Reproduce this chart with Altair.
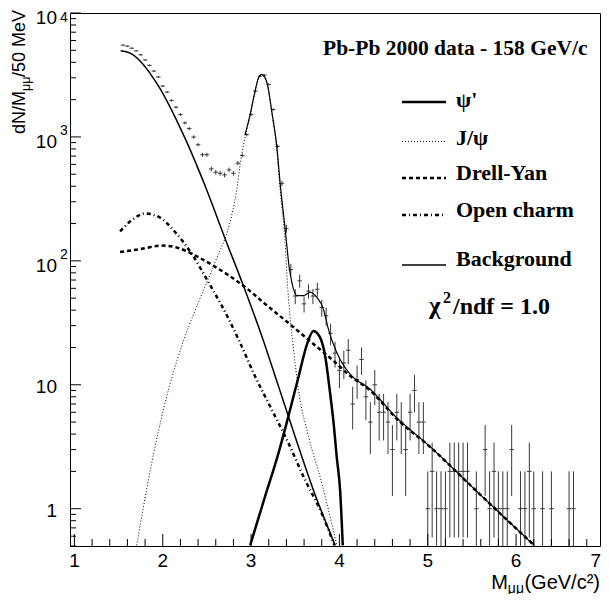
import altair as alt
import pandas as pd
import numpy as np

# ---------------- data ----------------
mass = [1.55, 1.60, 1.65, 1.70, 1.75, 1.80, 1.85, 1.90, 1.95, 2.00,
        2.05, 2.10, 2.15, 2.20, 2.25, 2.30, 2.35, 2.40, 2.45, 2.50,
        2.55, 2.60, 2.65, 2.70, 2.75, 2.80, 2.85, 2.90, 2.95, 3.00,
        3.05, 3.10, 3.15, 3.20, 3.25, 3.30, 3.35, 3.40, 3.45, 3.50,
        3.55, 3.60, 3.65, 3.70, 3.75, 3.80, 3.85, 3.90, 3.95, 4.00,
        4.05, 4.10, 4.15, 4.20, 4.25, 4.30, 4.35, 4.40, 4.45, 4.50,
        4.55, 4.60, 4.65, 4.70, 4.75, 4.80, 4.85, 4.90, 4.95, 5.00,
        5.05, 5.10, 5.15, 5.20, 5.25, 5.30, 5.35, 5.40, 5.45, 5.50,
        5.55, 5.60, 5.65, 5.70, 5.75, 5.80, 5.85, 5.90, 5.95, 6.00,
        6.05, 6.10, 6.15, 6.20, 6.25, 6.30, 6.35, 6.40, 6.45, 6.50,
        6.55, 6.60, 6.65]
counts = [5500, 5400, 5200, 4950, 4600, 4180, 3780, 3400, 3045, 2573,
          2300, 1968, 1738, 1515, 1297, 1167, 998, 865, 718, 718,
          552, 519, 509, 494, 542, 509, 614, 709, 1042, 1515,
          2345, 3090, 3150, 2655, 1664, 839, 422, 182, 85, 52,
          69, 45, 57, 52, 59, 42, 36, 26, 18, 13,
          15, 19, 7, 11, 16, 8, 5, 10, 6, 6,
          5, 3, 6, 5, 3, 6, 9, 5, 5, 1,
          2, 1, 1, 1, 2, 2, 2, 2, 2, 0,
          1, 0, 3, 1, 2, 1, 1, 1, 3, 0,
          1, 1, 2, 1, 0, 1, 0, 1, 0, 0,
          0, 1, 1]

bkg_x = [1.524, 1.630, 1.743, 1.856, 1.970, 2.083, 2.196, 2.290, 2.385, 2.498,
         2.706, 2.913, 3.121, 3.310, 3.498, 3.706, 3.952]
bkg_y = [4950, 4740, 4100, 3260, 2450, 1738, 1189, 851, 589, 373,
         151, 63, 24.8, 9.75, 3.83, 1.41, 0.506]

jpsi_x = [1.705, 1.875, 2.026, 2.215, 2.404, 2.593, 2.781, 2.838, 2.876, 2.932,
          2.989, 3.045, 3.084, 3.121, 3.154, 3.185, 3.234, 3.291, 3.329, 3.385,
          3.415, 3.480, 3.536, 3.650, 3.801, 3.914, 3.970]
jpsi_y = [0.506, 2.33, 7.14, 20.6, 46.3, 97.7, 234, 375, 600, 1000,
          1480, 2300, 2950, 3180, 3000, 2600, 1560, 790, 375, 140,
          60, 19.4, 9.16, 3.83, 1.60, 0.758, 0.506]

psi2_x = [2.989, 3.159, 3.310, 3.423, 3.536, 3.631, 3.706, 3.782, 3.839, 3.895,
          3.933, 3.970, 4.008, 4.038]
psi2_y = [0.506, 1.26, 2.8, 5.6, 11.5, 21.0, 27.2, 24, 17, 8.5,
          5.0, 2.6, 1.4, 0.506]

dy_x = [1.517, 1.762, 1.988, 2.177, 2.404, 2.630, 2.913, 3.159, 3.461, 3.687,
        3.933, 4.121, 4.348, 4.650, 5.027, 5.481, 5.820, 6.205]
dy_y = [118, 125, 133, 127, 107, 86.3, 63, 44.9, 29.9, 21.9,
        15.6, 11.8, 9.0, 5.3, 3.15, 1.55, 0.914, 0.506]

oc_x = [1.517, 1.649, 1.800, 1.951, 2.139, 2.328, 2.517, 2.668, 2.857, 3.045,
        3.234, 3.423, 3.612, 3.801, 3.944]
oc_y = [173, 213, 241, 227, 171, 114, 67.3, 43.5, 23.3, 11.7,
        6.3, 3.38, 1.70, 0.914, 0.506]

tot_x = [2.932, 2.989, 3.045, 3.084, 3.121, 3.154, 3.185, 3.234, 3.291, 3.329,
         3.385, 3.434, 3.461, 3.518, 3.593, 3.668, 3.744, 3.819, 3.876, 3.924,
         4.008, 4.121, 4.348, 4.650, 5.027, 5.481, 5.820, 6.205]
tot_y = [1042, 1514, 2345, 3000, 3200, 3050, 2654, 1614, 838, 422,
         182, 86.3, 67.3, 52.4, 52.4, 55.8, 50.8, 40.8, 28, 22,
         16, 12.2, 9.2, 5.4, 3.17, 1.55, 0.914, 0.506]

x_tick_labels = [1, 2, 3, 4, 5, 6]
x_last_label = 7
y_major = [1, 10, 100, 1000, 10000]
y_exp_vals = [100, 1000]
y_exp_text = ["2", "3"]

# ---------------- layout ----------------
W, H = 530, 533
xs = alt.Scale(domain=[0.95, 6.95], nice=False, zero=False)
ys = alt.Scale(type="log", domain=[0.5, 10000], nice=False)
SANS = "Liberation Sans"
SERIF = "Liberation Serif"

one = pd.DataFrame({"a": [0]})


def X(f):
    return alt.X(f, scale=xs, axis=None)


def Y(f):
    return alt.Y(f, scale=ys, axis=None)


def curve(xv, yv, **style):
    df = pd.DataFrame({"m": xv, "v": yv})
    return alt.Chart(df).mark_line(clip=True, interpolate="monotone", color="black", **style).encode(
        x=X("m:Q"), y=Y("v:Q"))


# data points
pts = pd.DataFrame({"m": mass, "n": counts})
pts = pts[pts["n"] > 0].copy()
err = np.sqrt(pts["n"])
pts["lo"] = np.maximum(pts["n"] - err, 0.3)
pts["hi"] = pts["n"] + err
pts["m1"] = pts["m"] - 0.025
pts["m2"] = pts["m"] + 0.025

vbars = alt.Chart(pts).mark_rule(clip=True, color="#3a3a3a", strokeWidth=1).encode(
    x=X("m:Q"), y=Y("lo:Q"), y2="hi:Q")
hbars = alt.Chart(pts).mark_rule(clip=True, color="#3a3a3a", strokeWidth=1).encode(
    x=X("m1:Q"), x2="m2:Q", y=Y("n:Q"))

# inward ticks
xmaj = pd.DataFrame({"m": x_tick_labels})
xmin = pd.DataFrame({"m": [round(1 + 0.2 * i, 2) for i in range(30) if i % 5 != 0]})
ymin_vals = [d * b for b in [0.1, 1, 10, 100, 1000] for d in range(2, 10) if 0.5 <= d * b < 10000]
ymaj = pd.DataFrame({"v": y_major})
ymin = pd.DataFrame({"v": ymin_vals})
tick_xmaj = alt.Chart(xmaj).mark_rule(color="black").encode(
    x=X("m:Q"), y=alt.value(H), y2=alt.value(H - 12))
tick_xmin = alt.Chart(xmin).mark_rule(color="black").encode(
    x=X("m:Q"), y=alt.value(H), y2=alt.value(H - 7))
tick_ymaj = alt.Chart(ymaj).mark_rule(color="black").encode(
    y=Y("v:Q"), x=alt.value(0), x2=alt.value(11))
tick_ymin = alt.Chart(ymin).mark_rule(color="black").encode(
    y=Y("v:Q"), x=alt.value(0), x2=alt.value(6))

# tick labels
xlab = alt.Chart(pd.DataFrame({"m": x_tick_labels, "t": [str(v) for v in x_tick_labels]})).mark_text(
    align="center", baseline="middle", font=SANS, fontSize=19).encode(
    x=X("m:Q"), y=alt.value(548), text="t:N")
xlab_last = alt.Chart(pd.DataFrame({"m": [6.95], "t": [str(x_last_label)]})).mark_text(
    align="right", baseline="middle", font=SANS, fontSize=19, dx=1).encode(
    x=X("m:Q"), y=alt.value(548), text="t:N")
ylab_plain = alt.Chart(pd.DataFrame({"v": [1, 10], "t": ["1", "10"]})).mark_text(
    align="right", baseline="middle", font=SANS, fontSize=19, dy=2).encode(
    y=Y("v:Q"), x=alt.value(-13), text="t:N")
ylab_pow = alt.Chart(pd.DataFrame({"v": [100, 1000, 10000], "t": ["10", "10", "10"]})).mark_text(
    align="right", baseline="middle", font=SANS, fontSize=19, dy=5).encode(
    y=Y("v:Q"), x=alt.value(-13), text="t:N")
ylab_exp = alt.Chart(pd.DataFrame({"v": y_exp_vals, "t": y_exp_text})).mark_text(
    align="left", baseline="middle", font=SANS, fontSize=14, dy=-6).encode(
    y=Y("v:Q"), x=alt.value(-10), text="t:N")
ylab_exp_top = alt.Chart(pd.DataFrame({"v": [10000], "t": ["4"]})).mark_text(
    align="left", baseline="top", font=SANS, fontSize=14, dy=-2).encode(
    y=Y("v:Q"), x=alt.value(-10), text="t:N")


def txt(s, x, y, **kw):
    return alt.Chart(one).mark_text(**kw).encode(x=alt.value(x), y=alt.value(y), text=alt.value(s))


def seg(x1, x2, y, **kw):
    return alt.Chart(one).mark_rule(color="black", **kw).encode(
        x=alt.value(x1), x2=alt.value(x2), y=alt.value(y))


# axis titles
ytitle = [
    txt("dN/M", -45, 121, align="left", baseline="alphabetic", angle=270, font=SANS, fontSize=18),
    txt("μμ", -40, 78, align="left", baseline="alphabetic", angle=270, font=SANS, fontSize=12.5),
    txt("/50 MeV", -45, 64, align="left", baseline="alphabetic", angle=270, font=SANS, fontSize=18),
]
xtitle = [
    txt("M", 438, 576, align="right", baseline="alphabetic", font=SANS, fontSize=20),
    txt("μμ", 454, 579.5, align="right", baseline="alphabetic", font=SANS, fontSize=14),
    txt("(GeV/c²)", 530, 576, align="right", baseline="alphabetic", font=SANS, fontSize=20),
]

# legend / annotations
LX1, LX2, TX = 332, 376, 386
B = dict(align="left", baseline="alphabetic", font=SERIF, fontWeight="bold")
leg = [
    txt("Pb-Pb 2000 data - 158 GeV/c", 253, 42, fontSize=21.5, **B),
    seg(LX1, LX2, 89, strokeWidth=2.5),
    txt("ψ'", TX, 94, fontSize=22, **B),
    seg(LX1, LX2, 128.5, strokeWidth=1, strokeDash=[1, 2]),
    txt("J/ψ", TX, 132, fontSize=22, **B),
    seg(LX1, LX2, 165, strokeWidth=2.5, strokeDash=[4, 3]),
    txt("Drell-Yan", TX, 167, fontSize=22, **B),
    seg(LX1, LX2, 202, strokeWidth=2.5, strokeDash=[4, 3, 1, 3]),
    txt("Open charm", TX, 204, fontSize=22, **B),
    seg(LX1, LX2, 252, strokeWidth=1.5),
    txt("Background", TX, 253, fontSize=22, **B),
    txt("χ", 359, 301, fontSize=25, **B),
    txt("2", 373, 290, fontSize=16, **B),
    txt("/ndf = 1.0", 383, 301, fontSize=24, **B),
]

layers = [
    vbars, hbars,
    curve(jpsi_x, jpsi_y, strokeWidth=1, strokeDash=[1, 2]),
    curve(oc_x, oc_y, strokeWidth=2.5, strokeDash=[4, 3, 1, 3]),
    curve(dy_x, dy_y, strokeWidth=2.5, strokeDash=[4, 3]),
    curve(bkg_x, bkg_y, strokeWidth=1.5),
    curve(psi2_x, psi2_y, strokeWidth=2.5),
    curve(tot_x, tot_y, strokeWidth=1.2),
    tick_xmaj, tick_xmin, tick_ymaj, tick_ymin,
    xlab, xlab_last, ylab_plain, ylab_pow, ylab_exp, ylab_exp_top,
] + ytitle + xtitle + leg

chart = alt.layer(*layers).properties(
    width=W, height=H,
    autosize=alt.AutoSizeParams(type="none"),
    padding={"left": 62, "top": 5, "right": 1, "bottom": 48},
).configure_view(stroke="black", strokeWidth=1)

chart.save("out.html", embed_options={"renderer": "svg", "actions": False})
